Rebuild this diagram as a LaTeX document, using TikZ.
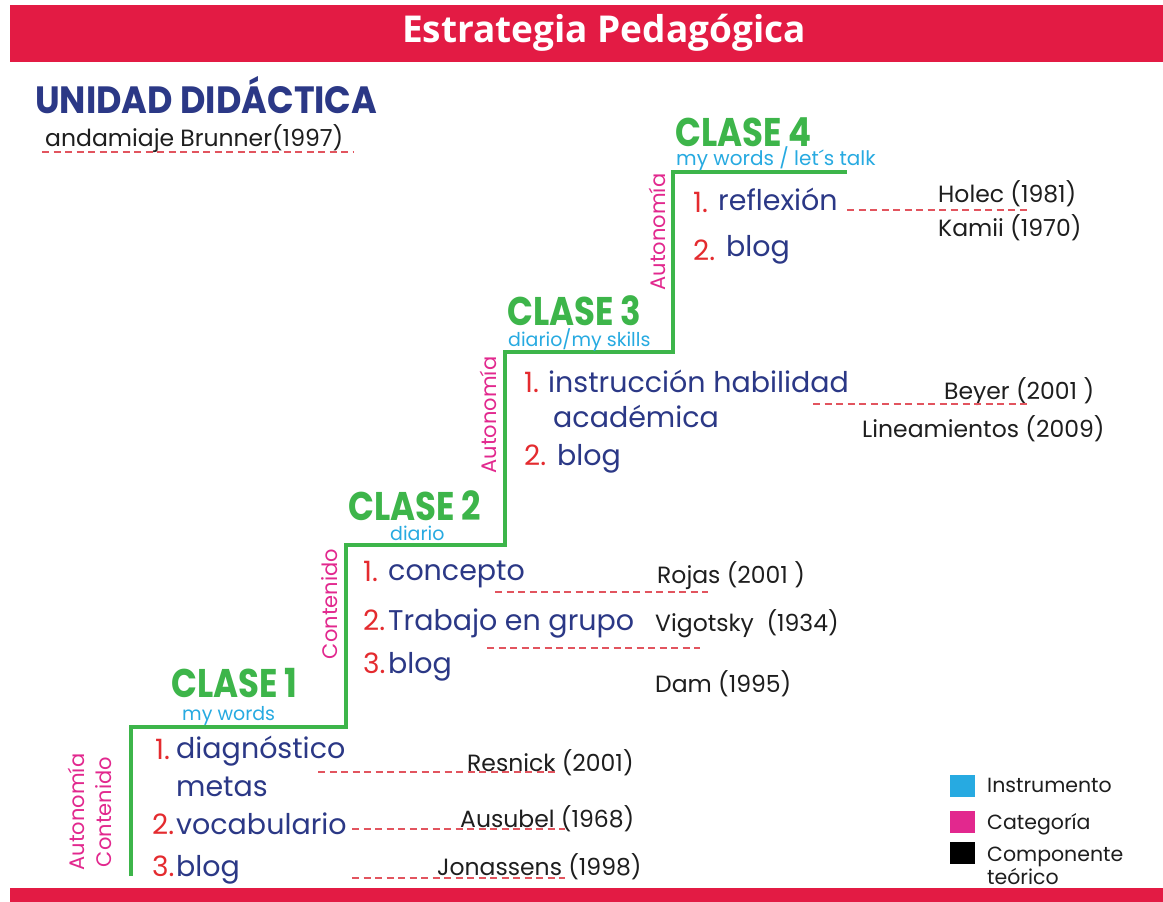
\documentclass[tikz,border=0pt]{standalone}
\usepackage{fontspec}
\setmainfont{Poppins}
\newfontfamily\titlefont{Open Sans}
\newfontfamily\clasefont{Poppins}[FakeStretch=0.85]
\newfontfamily\unifont{Poppins}[FakeStretch=0.92]
\definecolor{barred}{HTML}{E31B44}
\definecolor{navy}{HTML}{2B3886}
\definecolor{numred}{HTML}{E42B2F}
\definecolor{stairgreen}{HTML}{3DB54A}
\definecolor{cyanish}{HTML}{27AAE1}
\definecolor{magentaish}{HTML}{E2288E}
\definecolor{dashred}{HTML}{E2545E}
\definecolor{refgray}{HTML}{1E1E1E}
\tikzset{
  item/.style={font=\fontsize{28.5}{28.5}\selectfont, text=navy, anchor=base west, inner sep=0},
  num/.style={font=\fontsize{28}{28}\selectfont, text=numred, anchor=base west, inner sep=0},
  refer/.style={font=\fontsize{23.5}{23.5}\selectfont, text=refgray, anchor=base west, inner sep=0},
  clase/.style={font=\clasefont\bfseries\fontsize{40}{40}\selectfont, text=stairgreen, anchor=base west, inner sep=0, text depth=0pt},
  inst/.style={font=\fontsize{19}{19}\selectfont, text=cyanish, anchor=base west, inner sep=0, text height=10pt},
  cat/.style={font=\fontsize{21}{21}\selectfont, text=magentaish, rotate=90, inner sep=0},
  link/.style={draw=dashred, dash pattern=on 7pt off 4.5pt, line width=1.2pt},
  stair/.style={draw=stairgreen, line width=4pt},
  legsq/.style={minimum width=25pt, minimum height=22pt, inner sep=0, draw=none},
  legtxt/.style={font=\fontsize{20.5}{20.5}\selectfont, text=refgray, anchor=base west, inner sep=0},
}
\begin{document}
\begin{tikzpicture}[x=1pt,y=-1pt]
\useasboundingbox (0,0) rectangle (1163,902);
\fill[white] (0,0) rectangle (1163,902);
% bars
\fill[barred] (10,5) rectangle (1163,62);
\fill[barred] (10,888) rectangle (1163,902);
\node[font=\titlefont\bfseries\fontsize{37}{37}\selectfont, text=white, inner sep=0] (title) at (604,33) {Estrategia Pedagógica};
% unidad
\node[font=\unifont\bfseries\fontsize{38}{38}\selectfont, text=navy, anchor=base west, inner sep=0] (unidad) at (35,113) {UNIDAD DIDÁCTICA};
\node[refer] (brunner) at (45,146) {andamiaje Brunner(1997)};
\coordinate (bA) at (42,152); \coordinate (bB) at (354,152);
\draw[link] (bA) -- (bB);
% stair
\coordinate (s0) at (131,876); \coordinate (s1) at (131,727);
\coordinate (s2) at (346,727); \coordinate (s3) at (346,545);
\coordinate (s4) at (505,545); \coordinate (s5) at (505,352);
\coordinate (s6) at (673,352); \coordinate (s7) at (673,172);
\coordinate (s8) at (847,172);
\draw[stair] (s0) -- (s1) -- (s2) -- (s3) -- (s4) -- (s5) -- (s6) -- (s7) -- (s8);
% CLASE 4
\node[clase] (c4) at (675,146) {CLASE 4};
\node[inst, font=\fontsize{20}{20}\selectfont] (c4i) at (676,165) {my words / let´s talk};
\node[cat] (c4cat) at (657,232) {Autonomía};
\node[num] (c4n1) at (693,212) {1.};
\node[item] (c4t1) at (718,210) {reflexión};
\node[num] (c4n2) at (693,260) {2.};
\node[item] (c4t2) at (726,256) {blog};
\node[refer] (holec) at (938,202) {Holec (1981)};
\node[refer] (kamii) at (938,236) {Kamii (1970)};
\coordinate (l4a) at (847,210); \coordinate (l4b) at (1030,210);
\draw[link] (l4a) -- (l4b);
% CLASE 3
\node[clase] (c3) at (507,325) {CLASE 3};
\node[inst] (c3i) at (508,346) {diario/my skills};
\node[cat] (c3cat) at (488,415) {Autonomía};
\node[num] (c3n1) at (524,392) {1.};
\node[item] (c3t1) at (548,392) {instrucción habilidad};
\node[item] (c3t1b) at (553,427) {académica};
\node[num] (c3n2) at (524,465) {2.};
\node[item] (c3t2) at (557,465) {blog};
\node[refer] (beyer) at (944,399) {Beyer (2001 )};
\node[refer] (linea) at (862,437) {Lineamientos (2009)};
\coordinate (l3a) at (813,404); \coordinate (l3b) at (1027,404);
\draw[link] (l3a) -- (l3b);
% CLASE 2
\node[clase] (c2) at (348,520) {CLASE 2};
\node[inst] (c2i) at (390,540) {diario};
\node[cat] (c2cat) at (330,604) {Contenido};
\node[num] (c2n1) at (363,581) {1.};
\node[item] (c2t1) at (388,580) {concepto};
\node[num] (c2n2) at (363,630) {2.};
\node[item] (c2t2) at (388,630) {Trabajo en grupo};
\node[num] (c2n3) at (363,673) {3.};
\node[item] (c2t3) at (388,673) {blog};
\node[refer] (rojas) at (657,583) {Rojas (2001 )};
\node[refer] (vigot) at (655,631) {Vigotsky\ \ (1934)};
\node[refer] (dam) at (655,692) {Dam (1995)};
\coordinate (l2a) at (495,592); \coordinate (l2b) at (708,592);
\coordinate (l2c) at (487,648); \coordinate (l2d) at (700,648);
\draw[link] (l2a) -- (l2b);
\draw[link] (l2c) -- (l2d);
% CLASE 1
\node[clase] (c1) at (171,697) {CLASE 1};
\node[inst] (c1i) at (182,720) {my words};
\node[cat] (c1cat) at (76,812) {Autonomía};
\node[cat] (c1cat2) at (104,812) {Contenido};
\node[num] (c1n1) at (155,759) {1.};
\node[item] (c1t1) at (176,758) {diagnóstico};
\node[item] (c1t1b) at (176,796) {metas};
\node[num] (c1n2) at (152,834) {2.};
\node[item] (c1t2) at (176,834) {vocabulario};
\node[num] (c1n3) at (152,876) {3.};
\node[item] (c1t3) at (176,876) {blog};
\node[refer] (resnick) at (467,771) {Resnick (2001)};
\node[refer] (ausubel) at (460,827) {Ausubel (1968)};
\node[refer] (jonas) at (437,875) {Jonassens (1998)};
\coordinate (l1a) at (318,772); \coordinate (l1b) at (557,772);
\coordinate (l1c) at (352,829); \coordinate (l1d) at (565,829);
\coordinate (l1e) at (352,878); \coordinate (l1f) at (565,878);
\draw[link] (l1a) -- (l1b);
\draw[link] (l1c) -- (l1d);
\draw[link] (l1e) -- (l1f);
% legend
\node[legsq, fill=cyanish] (sq1) at (962,786) {};
\node[legsq, fill=magentaish] (sq2) at (962,822) {};
\node[legsq, fill=black] (sq3) at (962,853) {};
\node[legtxt] (lg1) at (987,792) {Instrumento};
\node[legtxt] (lg2) at (987,829) {Categoría};
\node[legtxt] (lg3) at (987,861) {Componente};
\node[legtxt] (lg4) at (987,884) {teórico};
\end{tikzpicture}
\end{document}
